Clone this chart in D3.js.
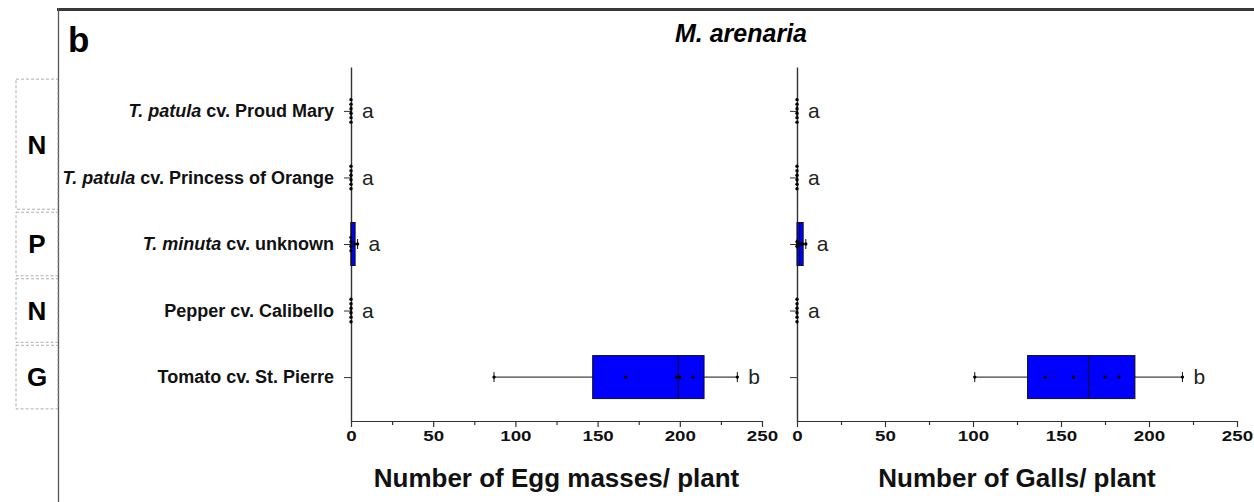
<!DOCTYPE html>
<meta charset="utf-8">

<!-- Load d3.js -->
<script src="https://d3js.org/d3.v7.min.js"></script>

<style>
body { margin: 0; background: #fff; }
text { font-family: "Liberation Sans", Arial, sans-serif; }
</style>

<!-- Create a div where the graph will take place -->
<div id="my_dataviz"></div>

<script>

// treatments, top to bottom
var categories = ["T. patula cv. Proud Mary", "T. patula cv. Princess of Orange",
                  "T. minuta cv. unknown", "Pepper cv. Calibello", "Tomato cv. St. Pierre"]
// part of each label written in italics
var italicPart = ["T. patula", "T. patula", "T. minuta", "", ""]

// replicate values per treatment
var eggMasses = [
  [0, 0, 0, 0, 0, 0],
  [0, 0, 0, 0, 0, 0],
  [0, 0, 0, 0, 2, 4],
  [0, 0, 0, 0, 0, 0],
  [87, 167, 198, 200, 208, 235]
]
var galls = [
  [0, 0, 0, 0, 0, 0],
  [0, 0, 0, 0, 0, 0],
  [0, 0, 1, 2, 3, 5],
  [0, 0, 0, 0, 0, 0],
  [101, 141, 157, 175, 183, 219]
]

// significance letters
var eggLetters = ["a", "a", "a", "a", "b"]
var gallLetters = ["a", "a", "a", "a", "b"]

// host groups on the left
var groupLabels = ["N", "P", "N", "G"]
var groupFirst = [0, 2, 3, 4]
var groupLast = [1, 2, 3, 4]

// x ticks
var majorTicks = [0, 50, 100, 150, 200, 250]
var minorTicks = [25, 75, 125, 175, 225]

var W = 1254, H = 502

var svg = d3.select("#my_dataviz")
  .append("svg")
    .attr("width", W)
    .attr("height", H)

// frame
svg.append("line")
  .attr("x1", 57).attr("x2", W)
  .attr("y1", 9.5).attr("y2", 9.5)
  .style("stroke", "#383838")
  .style("stroke-width", 3)
svg.append("line")
  .attr("x1", 58.5).attr("x2", 58.5)
  .attr("y1", 8).attr("y2", H)
  .style("stroke", "#555")
  .style("stroke-width", 1.3)

// panel letter and title
svg.append("text")
  .attr("x", 68)
  .attr("y", 52)
  .style("font-size", "35px")
  .style("font-weight", "bold")
  .text("b")

svg.append("text")
  .attr("x", 675)
  .attr("y", 42)
  .style("font-size", "25px")
  .style("font-weight", "bold")
  .style("font-style", "italic")
  .text("M. arenaria")

// shared y scale
var y = d3.scalePoint()
  .domain(categories)
  .range([67, 421])
  .padding(0.66)

// quartiles, n+1 method
function quant(s, p) {
  var h = (s.length + 1) * p - 1
  if (h <= 0) return s[0]
  if (h >= s.length - 1) return s[s.length - 1]
  var lo = Math.floor(h)
  return s[lo] + (h - lo) * (s[lo + 1] - s[lo])
}

// group brackets
groupLabels.forEach(function(lab, i) {
  var y0 = y(categories[groupFirst[i]]) - y.step() / 2 + 1.5
  var y1 = y(categories[groupLast[i]]) + y.step() / 2 - 1.5
  svg.append("rect")
    .attr("x", 16)
    .attr("y", y0)
    .attr("width", 42)
    .attr("height", y1 - y0)
    .style("fill", "none")
    .style("stroke", "#999")
    .style("stroke-width", 0.8)
    .style("stroke-dasharray", "3,2")
  svg.append("text")
    .attr("x", 37)
    .attr("y", (y0 + y1) / 2)
    .attr("dy", "0.36em")
    .attr("text-anchor", "middle")
    .style("font-size", "26px")
    .style("font-weight", "bold")
    .text(lab)
})

function drawPanel(values, letters, x0, x1, title, withLabels) {
  var x = d3.scaleLinear().domain([0, 250]).range([x0, x1])
  var g = svg.append("g")

  // y axis
  var yAxis = g.append("g")
    .attr("transform", "translate(" + x0 + ",0)")
    .call(d3.axisLeft(y).tickSize(7).tickSizeOuter(0).tickPadding(10)
      .tickFormat(withLabels ? function(d) { return d } : ""))
  yAxis.select(".domain").style("stroke", "#333").style("stroke-width", 1.4)
  yAxis.selectAll("line").style("stroke", "#333")
  if (withLabels) {
    yAxis.selectAll("text")
      .text(null)
      .style("font-size", "18px")
      .style("font-weight", "bold")
      .style("fill", "#111")
      .style("white-space", "pre")
      .each(function(d, i) {
        var t = d3.select(this)
        if (italicPart[i]) t.append("tspan").style("font-style", "italic").text(italicPart[i])
        t.append("tspan").text(d.slice(italicPart[i].length))
      })
  }

  // x axis
  var xAxis = g.append("g")
    .attr("transform", "translate(0,421)")
    .call(d3.axisBottom(x).tickValues(majorTicks).tickSize(6).tickSizeOuter(0).tickPadding(3))
  xAxis.select(".domain").style("stroke", "#333").style("stroke-width", 1.2)
  xAxis.selectAll("line").style("stroke", "#333").style("stroke-width", 1.2)
  xAxis.selectAll("text")
    .attr("transform", "scale(1.25,1)")
    .style("font-size", "15px")
    .style("font-weight", "bold")
    .style("fill", "#111")
  var xMinor = g.append("g")
    .attr("transform", "translate(0,421)")
    .call(d3.axisBottom(x).tickValues(minorTicks).tickSize(4).tickSizeOuter(0).tickFormat(""))
  xMinor.select(".domain").remove()
  xMinor.selectAll("line").style("stroke", "#333").style("stroke-width", 1.2)

  // axis title
  g.append("text")
    .attr("x", (x0 + x1) / 2)
    .attr("y", 487)
    .attr("text-anchor", "middle")
    .style("font-size", "26px")
    .style("font-weight", "bold")
    .style("fill", "#111")
    .text(title)

  // boxes
  var bh = 43, cap = 10
  values.forEach(function(vals, i) {
    var s = vals.slice().sort(d3.ascending)
    var q1 = quant(s, 0.25), med = quant(s, 0.5), q3 = quant(s, 0.75)
    var lo = s[0], hi = s[s.length - 1]
    var cy = y(categories[i])
    var b = g.append("g")

    b.append("line")
      .attr("x1", x(lo)).attr("x2", x(hi))
      .attr("y1", cy).attr("y2", cy)
      .style("stroke", "#111").style("stroke-width", 1)
    ;[lo, hi].forEach(function(v) {
      b.append("line")
        .attr("x1", x(v)).attr("x2", x(v))
        .attr("y1", cy - cap / 2).attr("y2", cy + cap / 2)
        .style("stroke", "#111").style("stroke-width", 1)
    })
    if (q3 > q1) {
      b.append("rect")
        .attr("x", x(q1))
        .attr("y", cy - bh / 2)
        .attr("width", x(q3) - x(q1))
        .attr("height", bh)
        .style("fill", "#0000ff")
        .style("stroke", "#111")
        .style("stroke-width", 1)
      b.append("line")
        .attr("x1", x(med)).attr("x2", x(med))
        .attr("y1", cy - bh / 2).attr("y2", cy + bh / 2)
        .style("stroke", "#111").style("stroke-width", 1)
    }

    // points, tied values stacked vertically
    var counts = d3.rollup(s, function(v) { return v.length }, function(d) { return d })
    var seen = new Map()
    s.forEach(function(v) {
      var n = counts.get(v)
      var k = seen.get(v) || 0
      seen.set(v, k + 1)
      b.append("circle")
        .attr("cx", x(v))
        .attr("cy", cy + (k - (n - 1) / 2) * 4.5)
        .attr("r", 1.7)
        .style("fill", "#000")
    })

    // letter
    b.append("text")
      .attr("x", x(hi) + 11)
      .attr("y", cy)
      .attr("dy", "0.35em")
      .style("font-size", "21px")
      .style("fill", "#222")
      .text(letters[i])
  })
}

drawPanel(eggMasses, eggLetters, 351, 762, "Number of Egg masses/ plant", true)
drawPanel(galls, gallLetters, 797, 1237, "Number of Galls/ plant", false)

</script>
